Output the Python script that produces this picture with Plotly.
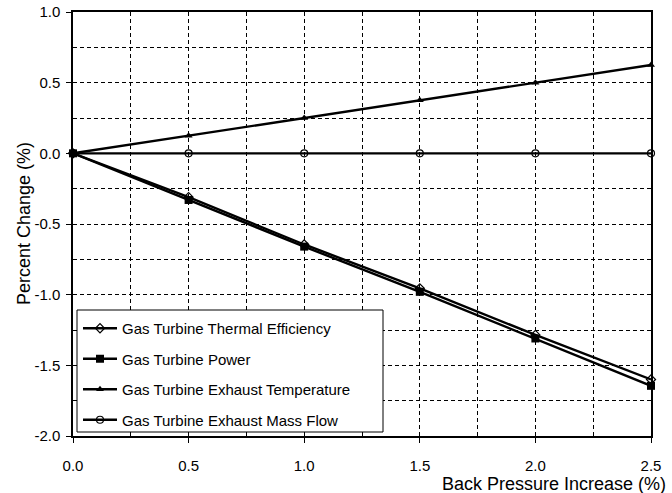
import plotly.graph_objects as go

back_pressure = [0.0, 0.5, 1.0, 1.5, 2.0, 2.5]
thermal_eff = [0.0, -0.31, -0.645, -0.955, -1.285, -1.60]
power = [0.0, -0.33, -0.66, -0.98, -1.31, -1.645]
exhaust_temp = [0.0, 0.125, 0.25, 0.375, 0.50, 0.625]
mass_flow = [0.0, 0.0, 0.0, 0.0, 0.0, 0.0]

names = ["Gas Turbine Thermal Efficiency", "Gas Turbine Power",
         "Gas Turbine Exhaust Temperature", "Gas Turbine Exhaust Mass Flow"]
x_ticks = [0.0, 0.5, 1.0, 1.5, 2.0, 2.5]
y_ticks = [1.0, 0.5, 0.0, -0.5, -1.0, -1.5, -2.0]

FONT = "Liberation Sans, Arial, sans-serif"

W, H = 672, 493
ML, MR, MT, MB = 73, 21, 12, 57
PW, PH = W - ML - MR, H - MT - MB

fig = go.Figure()
series = [
    (thermal_eff, dict(symbol="diamond-open", size=7, color="black", line=dict(width=1.2, color="black"))),
    (power, dict(symbol="square", size=8, color="black")),
    (exhaust_temp, dict(symbol="triangle-up", size=7, color="black")),
    (mass_flow, dict(symbol="circle-open", size=7, color="black", line=dict(width=1.2, color="black"))),
]
for i, (vals, mk) in enumerate(series):
    fig.add_trace(go.Scatter(
        x=back_pressure, y=vals, name=names[i], mode="lines+markers",
        line=dict(color="black", width=2.4), marker=mk,
        legendgroup=f"g{i}", cliponaxis=False,
    ))

axis_common = dict(
    showline=True, linecolor="black", linewidth=1.5, mirror=True,
    showgrid=True, gridcolor="black", gridwidth=1, griddash="4px,3px",
    zeroline=False, ticks="outside", ticklen=5, tickcolor="black",
    tickfont=dict(family=FONT, size=15, color="black"),
    automargin=False,
)
minor_common = dict(dtick=0.25, tick0=0, showgrid=True, gridcolor="black", gridwidth=1,
                    griddash="4px,3px", ticks="")

fig.update_xaxes(
    range=[0, 2.5], tickvals=x_ticks, ticktext=[f"{v:.1f}" for v in x_ticks],
    minor=minor_common, ticklabelstandoff=10, **axis_common,
)
fig.update_yaxes(
    range=[-2.0, 1.0], tickvals=y_ticks, ticktext=[f"{v:.1f}" for v in y_ticks],
    minor=minor_common, ticklabelstandoff=3, **axis_common,
)

fig.add_annotation(
    text="Back Pressure Increase (%)", xref="paper", yref="paper",
    x=1, y=0, xanchor="right", yanchor="middle", xshift=17, yshift=-48,
    showarrow=False, font=dict(family=FONT, size=18, color="black"),
)
fig.add_annotation(
    text="Percent Change (%)", xref="paper", yref="paper",
    x=0, y=0.5, xanchor="center", yanchor="middle", xshift=-49, textangle=-90,
    showarrow=False, font=dict(family=FONT, size=18, color="black"),
)

# legend frame (pixel box 77..383 x 310..432)
fig.add_shape(
    type="rect", xref="paper", yref="paper", layer="above",
    x0=(77 - ML) / PW, x1=(383 - ML) / PW,
    y0=(H - MB - 432) / PH, y1=(H - MB - 310) / PH,
    line=dict(color="black", width=1), fillcolor="white",
)

fig.update_layout(
    width=W, height=H,
    margin=dict(l=ML, r=MR, t=MT, b=MB),
    paper_bgcolor="white", plot_bgcolor="white",
    font=dict(family=FONT, color="black"),
    legend=dict(
        x=(78 - ML) / PW, y=(H - MB - 312) / PH, xanchor="left", yanchor="top",
        bgcolor="rgba(0,0,0,0)", borderwidth=0,
        font=dict(family=FONT, size=15, color="black"),
        tracegroupgap=8, itemwidth=34,
    ),
    showlegend=True,
)

fig.write_html("out.html", config={"displayModeBar": False},
               post_script="document.body.style.margin='0';")
